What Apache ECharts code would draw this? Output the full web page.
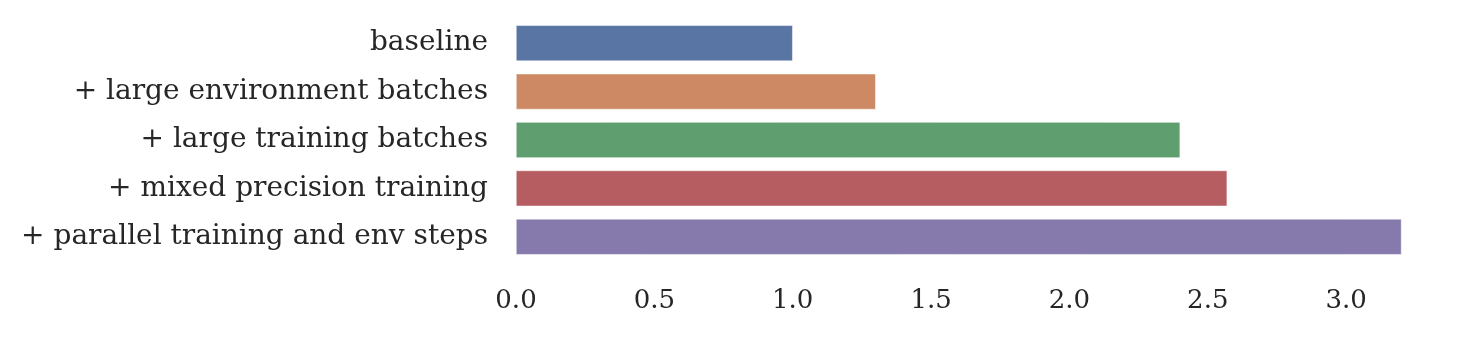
<!DOCTYPE html>
<html>
<head>
<meta charset="utf-8">
<script src="https://cdn.jsdelivr.net/npm/echarts@6/dist/echarts.min.js"></script>
<style>
  html, body { margin: 0; padding: 0; background: #fff; }
  #chart { width: 1465px; height: 338px; }
</style>
</head>
<body>
<div id="chart"></div>
<script>
// speedup steps, top to bottom
const categories = [
  'baseline',
  '+ large environment batches',
  '+ large training batches',
  '+ mixed precision training',
  '+ parallel training and env steps'
]
const speedups = [1.0, 1.3, 2.4, 2.57, 3.2]
const barColors = ['#5975a4', '#cc8963', '#5f9e6e', '#b55d60', '#857aab']

const textColor = '#262626'
const fontFamily = '"DejaVu Serif", serif'

const chart = echarts.init(document.getElementById('chart'))

chart.setOption({
  animation: false,
  grid: {
    left: 516,
    right: 22,
    top: 19,
    height: 242,
    containLabel: false
  },
  xAxis: {
    type: 'value',
    min: 0,
    max: 3.35,
    interval: 0.5,
    axisLine: { show: false },
    axisTick: { show: false },
    splitLine: { show: false },
    axisLabel: {
      color: textColor,
      fontFamily: fontFamily,
      fontSize: 26,
      margin: 27,
      showMaxLabel: false,
      formatter: v => v.toFixed(1)
    }
  },
  yAxis: {
    type: 'category',
    inverse: true,
    data: categories,
    axisLine: { show: false },
    axisTick: { show: false },
    splitLine: { show: false },
    axisLabel: {
      color: textColor,
      fontFamily: fontFamily,
      fontSize: 28,
      margin: 28
    }
  },
  series: [{
    type: 'bar',
    barCategoryGap: '26%',
    data: speedups.map((v, i) => ({
      value: v,
      itemStyle: { color: barColors[i] }
    })),
    itemStyle: { borderColor: '#fff', borderWidth: 0.5 }
  }]
})
</script>
</body>
</html>
